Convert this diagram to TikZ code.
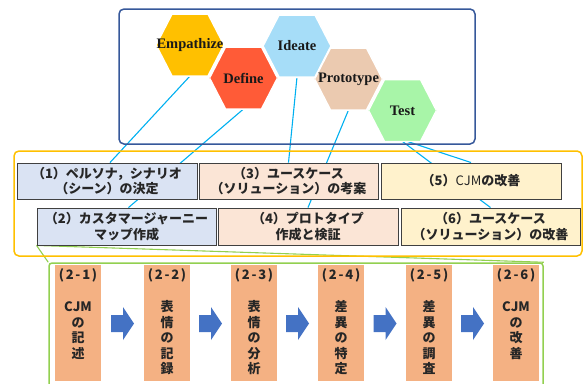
\documentclass[tikz,border=0pt]{standalone}
\usepackage{fontspec}
\setmainfont{Liberation Serif}
\newfontfamily\hexfont{Liberation Serif}
\newfontfamily\jp{Noto Sans CJK JP}
\usetikzlibrary{calc,backgrounds}
\definecolor{hexY}{HTML}{FFC000}
\definecolor{hexR}{HTML}{FF5B37}
\definecolor{hexB}{HTML}{A6DDF8}
\definecolor{hexT}{HTML}{EBCAB0}
\definecolor{hexG}{HTML}{A8F5A8}
\definecolor{frameblue}{HTML}{36589A}
\definecolor{goldframe}{HTML}{FFC000}
\definecolor{lgreen}{HTML}{92D050}
\definecolor{cyanline}{HTML}{00B0F0}
\definecolor{boxB}{HTML}{DAE3F3}
\definecolor{boxP}{HTML}{FBE5D6}
\definecolor{boxY}{HTML}{FFF2CC}
\definecolor{orangebox}{HTML}{F4B183}
\definecolor{arrowblue}{HTML}{4472C4}
\definecolor{boxline}{HTML}{404040}
\begin{document}
\begin{tikzpicture}[x=1pt,y=-1pt,
  hexnode/.style={minimum width=68pt, minimum height=62pt, inner sep=0pt, outer sep=0pt,
    font=\hexfont\bfseries\fontsize{14.5}{16}\selectfont, text=black!90,
    path picture={\filldraw[fill=#1, draw=white, line width=1.5pt]
      (path picture bounding box.west) -- ([xshift=16pt]path picture bounding box.north west)
      -- ([xshift=-16pt]path picture bounding box.north east) -- (path picture bounding box.east)
      -- ([xshift=-16pt]path picture bounding box.south east) -- ([xshift=16pt]path picture bounding box.south west) -- cycle;}},
  jbox/.style={draw=boxline, line width=0.9pt, fill=#1, minimum height=36pt, inner sep=0pt,
    align=center, font=\jp\bfseries\fontsize{13}{15.4}\selectfont, text=black!85},
  frame/.style={draw=#1, line width=1.5pt, rounded corners=5pt, inner sep=0pt, fill=none},
  cline/.style={draw=cyanline, line width=1.1pt},
  gline/.style={draw=lgreen, line width=1.1pt},
  obox/.style={fill=orangebox, draw=none, minimum width=46pt, minimum height=116pt, inner sep=0pt},
  olabel/.style={font=\jp\bfseries\fontsize{13}{15}\selectfont, text=black!85, inner sep=0pt},
  vtext/.style={font=\jp\bfseries\fontsize{13}{15.4}\selectfont, text=black!85, inner sep=0pt, align=center, anchor=north},
  barrow/.style={fill=arrowblue, draw=none}
]
\useasboundingbox (0,0) rectangle (583,383);
\clip (0,0) rectangle (583,383);

% frames
\node[frame=frameblue, minimum width=356pt, minimum height=135pt] (blu) at (297,76.5) {};
\node[frame=goldframe, minimum width=568pt, minimum height=105pt] (gold) at (298,203.5) {};
\node[frame=lgreen, rounded corners=3pt, minimum width=494pt, minimum height=137pt] (grn) at (296,331.5) {};

% hexagons
\node[hexnode=hexY] (emp) at (190,45) {Empathize};
\node[hexnode=hexR] (def) at (243.5,78) {Define};
\node[hexnode=hexB] (ide) at (297,46) {Ideate};
\node[hexnode=hexT] (pro) at (348.5,79) {Prototype};
\node[hexnode=hexG] (tst) at (402.5,110.5) {Test};

% boxes
\node[jbox=boxB, minimum width=180pt] (b1) at (107,181) {（1）ペルソナ，シナリオ\\（シーン）の決定};
\node[jbox=boxP, minimum width=179pt] (b3) at (288.5,181) {（3）ユースケース\\（ソリューション）の考案};
\node[jbox=boxY, minimum width=180pt] (b5) at (471,181) {（5）{\mdseries CJM}の改善};
\node[jbox=boxB, minimum width=179pt, minimum height=37pt] (b2) at (126.5,226.5) {（2）カスタマージャーニー\\マップ作成};
\node[jbox=boxP, minimum width=180pt, minimum height=37pt] (b4) at (308,226.5) {（4）プロトタイプ\\作成と検証};
\node[jbox=boxY, minimum width=179pt, minimum height=37pt] (b6) at (490.5,226.5) {（6）ユースケース\\（ソリューション）の改善};

% sub steps
\foreach \i/\x/\txt in {1/78/{CJM\vphantom{表}\\の\\記\\述},
                        2/167/{表\\情\\の\\記\\録},
                        3/254/{表\\情\\の\\分\\析},
                        4/341/{差\\異\\の\\特\\定},
                        5/429/{差\\異\\の\\調\\査},
                        6/516/{CJM\vphantom{表}\\の\\改\\善}}{
  \node[obox] (o\i) at (\x,323) {};
  \node[olabel] (l\i) at (\x,275) {(\kern1.8pt2\kern1.8pt-\kern1.8pt\i\kern1.8pt)};
  \node[vtext] (v\i) at (\x,300.5) {\txt};
}
% block arrows between the sub steps
\foreach \i/\j in {1/2,2/3,3/4,4/5,5/6}{
  \coordinate (a\i) at ($(o\i.east)!0.5!(o\j.west)+(0,0.5)$);
  \fill[barrow] ([shift={(-11.5pt,8.5pt)}]a\i) -- ([shift={(0.5pt,8.5pt)}]a\i)
     -- ([shift={(0.5pt,16.5pt)}]a\i) -- ([shift={(11.5pt,0pt)}]a\i)
     -- ([shift={(0.5pt,-16.5pt)}]a\i) -- ([shift={(0.5pt,-8.5pt)}]a\i)
     -- ([shift={(-11.5pt,-8.5pt)}]a\i) -- cycle;
}

% connectors (behind boxes)
\begin{pgfonlayer}{background}
\draw[cline] (emp.south) -- ([xshift=3pt]b1.north);
\draw[cline] (def.south) -- ([xshift=2pt]b2.north);
\draw[cline] (ide.south) -- (b3.north);
\draw[cline] (pro.south) -- (b4.north);
\draw[cline] ([xshift=5pt]tst.south) -- (b5.north);
\draw[cline] (tst.south) -- (b6.north);
\draw[gline] (b2.south west) -- (grn.north west);
\draw[gline] (b2.south west) -- (grn.north east);
\end{pgfonlayer}
\end{tikzpicture}
\end{document}
